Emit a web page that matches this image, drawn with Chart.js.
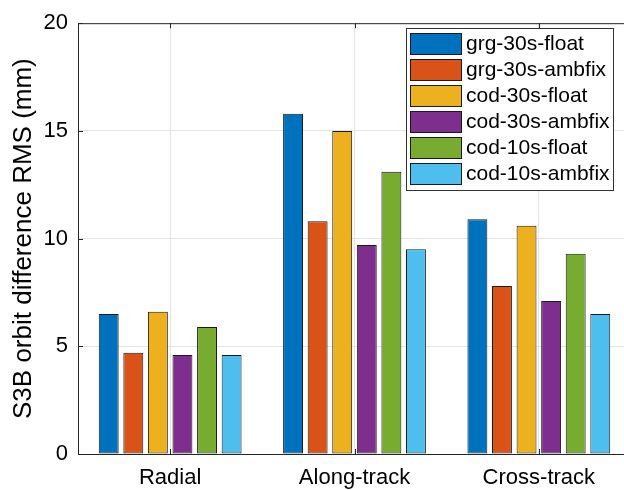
<!DOCTYPE html>
<html>
<head>
<meta charset="utf-8">
<script src="https://cdn.jsdelivr.net/npm/chart.js@4"></script>
<style>
  html, body { margin: 0; padding: 0; overflow: hidden; background: #fff; }
  #wrap { width: 640px; height: 490px; }
</style>
</head>
<body>
<div id="wrap"><canvas id="myChart" width="640" height="490"></canvas></div>
<script>
const ctx = document.getElementById('myChart').getContext('2d');

// Data
const categories = ['Radial', 'Along-track', 'Cross-track'];
const seriesNames = ['grg-30s-float', 'grg-30s-ambfix', 'cod-30s-float', 'cod-30s-ambfix', 'cod-10s-float', 'cod-10s-ambfix'];
const grg30Float = [6.5, 15.8, 10.9];
const grg30Ambfix = [4.7, 10.8, 7.8];
const cod30Float = [6.6, 15.0, 10.6];
const cod30Ambfix = [4.6, 9.7, 7.1];
const cod10Float = [5.9, 13.1, 9.3];
const cod10Ambfix = [4.6, 9.5, 6.5];
const yTicks = [0, 5, 10, 15, 20];

const seriesValues = [grg30Float, grg30Ambfix, cod30Float, cod30Ambfix, cod10Float, cod10Ambfix];
const colors = ['#0072BD', '#D95319', '#EDB120', '#7E2F8E', '#77AC30', '#4DBEEE'];

const FONT = '"Liberation Sans", Arial, Helvetica, sans-serif';
const AXIS = '#262626';

// inward ticks, top border and the boxed legend (MATLAB look)
const matlabLook = {
  id: 'matlabLook',
  afterDatasetsDraw(chart) {
    const c = chart.ctx;
    const a = chart.chartArea;
    const x = chart.scales.x, y = chart.scales.y;
    c.save();
    c.strokeStyle = AXIS;
    c.lineWidth = 1;
    c.beginPath();
    c.moveTo(a.left, a.top + 0.5);
    c.lineTo(a.right, a.top + 0.5);
    yTicks.forEach(v => {
      const py = Math.round(y.getPixelForValue(v)) + 0.5;
      c.moveTo(a.left, py);
      c.lineTo(a.left + 5, py);
    });
    categories.forEach((_, i) => {
      const px = Math.round(x.getPixelForValue(i)) + 0.5;
      c.moveTo(px, a.bottom);
      c.lineTo(px, a.bottom - 5);
      c.moveTo(px, a.top);
      c.lineTo(px, a.top + 5);
    });
    c.stroke();

    // legend
    const lx = 406.5, ly = 28.5, lw = 207, lh = 162;
    c.fillStyle = '#fff';
    c.fillRect(lx, ly, lw, lh);
    c.strokeStyle = '#333';
    c.strokeRect(lx, ly, lw, lh);
    c.font = '21px ' + FONT;
    c.textBaseline = 'middle';
    seriesNames.forEach((name, i) => {
      const ry = 33.5 + i * 26;
      c.fillStyle = colors[i];
      c.fillRect(410.5, ry, 51, 21);
      c.strokeStyle = '#1a1a1a';
      c.strokeRect(410.5, ry, 51, 21);
      c.fillStyle = '#000';
      c.fillText(name, 466, ry + 11);
    });
    c.restore();
  }
};

const myBarChart = new Chart(ctx, {
  type: 'bar',
  data: {
    labels: categories,
    datasets: seriesNames.map((name, i) => ({
      label: name,
      data: seriesValues[i],
      backgroundColor: colors[i],
      borderColor: '#1a1a1a',
      borderWidth: 1,
      borderSkipped: false,
      categoryPercentage: 0.8,
      barPercentage: 0.81
    }))
  },
  options: {
    responsive: false,
    animation: false,
    layout: { padding: { top: 20, right: 9, left: 0, bottom: 0 } },
    plugins: {
      legend: { display: false },
      tooltip: { enabled: false }
    },
    scales: {
      x: {
        afterFit: s => { s.height = 36; },
        grid: { offset: false, color: '#e3e3e3', drawTicks: false },
        border: { color: AXIS },
        ticks: { color: '#000', padding: 11, font: { family: FONT, size: 22 } }
      },
      y: {
        min: 0,
        max: 20,
        afterFit: s => { s.width = 78; },
        afterBuildTicks: s => { s.ticks = yTicks.map(v => ({ value: v })); },
        grid: { color: '#e3e3e3', drawTicks: false },
        border: { color: AXIS },
        ticks: { color: '#000', padding: 10, font: { family: FONT, size: 22 } },
        title: {
          display: true,
          text: 'S3B orbit difference RMS (mm)',
          color: '#000',
          padding: { top: 8, bottom: 0 },
          font: { family: FONT, size: 26 }
        }
      }
    }
  },
  plugins: [matlabLook]
});
</script>
</body>
</html>
